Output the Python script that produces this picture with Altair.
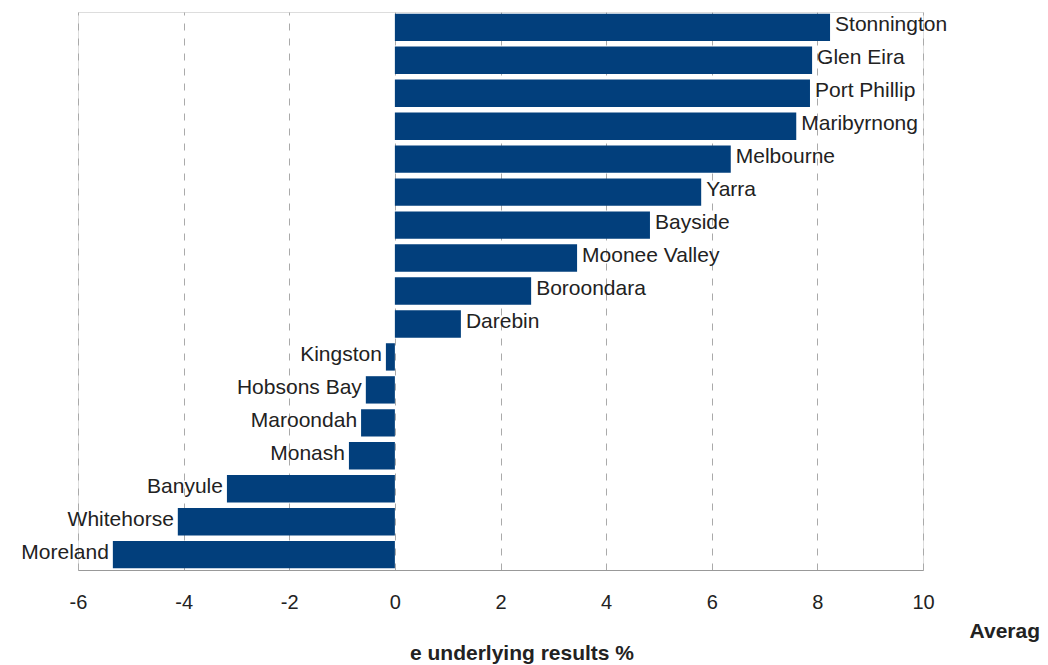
import altair as alt
import pandas as pd

councils = ["Stonnington", "Glen Eira", "Port Phillip", "Maribyrnong", "Melbourne", "Yarra",
            "Bayside", "Moonee Valley", "Boroondara", "Darebin", "Kingston", "Hobsons Bay",
            "Maroondah", "Monash", "Banyule", "Whitehorse", "Moreland"]
values = [8.24, 7.90, 7.86, 7.60, 6.36, 5.80, 4.83, 3.45, 2.58, 1.25, -0.17, -0.55,
          -0.64, -0.87, -3.18, -4.11, -5.34]
x_ticks = [-6, -4, -2, 0, 2, 4, 6, 8, 10]

df = pd.DataFrame({"council": councils, "value": values})

FONT = "Liberation Sans"
BAR = "#023f7c"
TXT = "#222222"

x = alt.X("value:Q", scale=alt.Scale(domain=[-6, 10], nice=False),
          axis=alt.Axis(values=x_ticks, title=None, grid=True, gridDash=[7, 8],
                        gridColor="#aaaaaa", ticks=False, domainColor="#999999",
                        labelPadding=22, labelFontSize=20, labelColor=TXT,
                        labelFont=FONT, labelFlush=False,
                        labelExpr="toString(datum.value)"))
y = alt.Y("council:N", sort=councils,
          scale=alt.Scale(paddingInner=0.17, paddingOuter=0.05), axis=None)

base = alt.Chart(df)
bars = base.mark_bar(color=BAR).encode(x=x, y=y)
pos = base.transform_filter("datum.value >= 0").mark_text(
    align="left", dx=5, dy=-2, fontSize=21, font=FONT, color=TXT).encode(
    x="value:Q", y=alt.Y("council:N", sort=councils), text="council:N")
neg = base.transform_filter("datum.value < 0").mark_text(
    align="right", dx=-4, dy=-2, fontSize=21, font=FONT, color=TXT).encode(
    x="value:Q", y=alt.Y("council:N", sort=councils), text="council:N")

t1 = alt.Chart(pd.DataFrame({"t": ["Averag"]})).mark_text(
    align="right", baseline="alphabetic", fontSize=21, fontWeight="bold", font=FONT,
    color=TXT).encode(x=alt.value(962), y=alt.value(626), text="t:N")
t2 = alt.Chart(pd.DataFrame({"t": ["e underlying results %"]})).mark_text(
    align="center", baseline="alphabetic", fontSize=21, fontWeight="bold", font=FONT,
    color=TXT).encode(x=alt.value(444), y=alt.value(648), text="t:N")

chart = alt.layer(bars, pos, neg, t1, t2).properties(
    width=845, height=558,
    padding={"left": 78, "top": 12, "right": 125, "bottom": 95},
    autosize=alt.AutoSizeParams(type="none"),
).configure_view(stroke=None).configure(background="white")

chart.save("out.html", embed_options={"renderer": "svg", "actions": False})
